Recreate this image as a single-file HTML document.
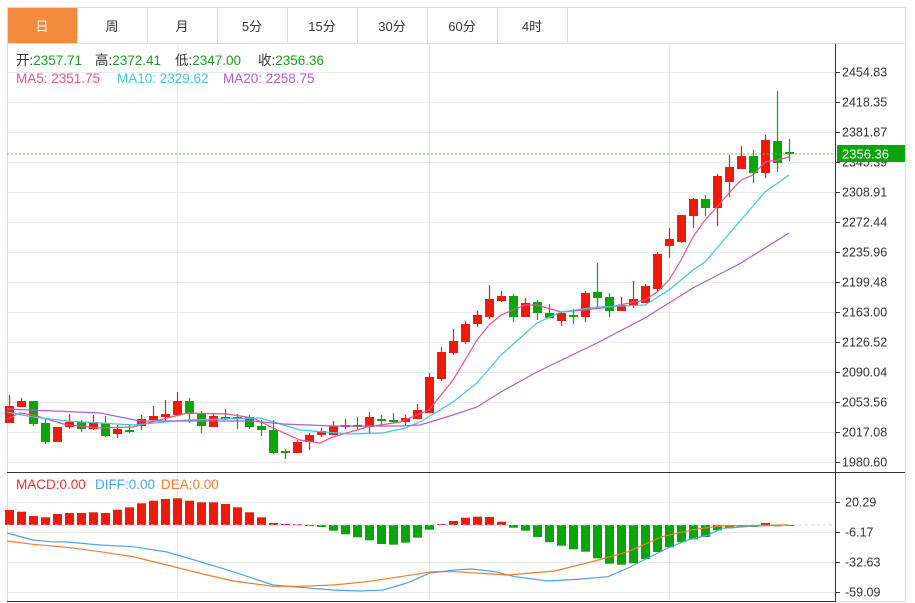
<!DOCTYPE html>
<html><head><meta charset="utf-8">
<style>
body{margin:0;background:#fff;width:915px;height:603px;overflow:hidden;font-family:"Liberation Sans","Noto Sans CJK SC",sans-serif;}
svg{position:absolute;left:0;top:0}
</style></head><body>
<svg id="s" width="915" height="603" xmlns="http://www.w3.org/2000/svg" font-family="Liberation Sans, Noto Sans CJK SC, sans-serif">
<rect x="7.5" y="7.5" width="898" height="594" fill="none" stroke="#dcdcdc"/>
<g stroke="#dcdcdc" fill="none">
<line x1="7" y1="43.5" x2="905" y2="43.5"/>
<line x1="77.5" y1="8" x2="77.5" y2="43"/><line x1="147.5" y1="8" x2="147.5" y2="43"/><line x1="217.5" y1="8" x2="217.5" y2="43"/><line x1="287.5" y1="8" x2="287.5" y2="43"/><line x1="357.5" y1="8" x2="357.5" y2="43"/><line x1="427.5" y1="8" x2="427.5" y2="43"/><line x1="497.5" y1="8" x2="497.5" y2="43"/><line x1="567.5" y1="8" x2="567.5" y2="43"/>
</g>
<rect x="8" y="8" width="69" height="35" fill="#f28b3e"/>
<g font-size="13" text-anchor="middle" fill="#333">
<text x="42" y="31" fill="#fff">日</text><text x="112" y="31">周</text><text x="182" y="31">月</text><text x="252" y="31">5分</text><text x="322" y="31">15分</text><text x="392" y="31">30分</text><text x="462" y="31">60分</text><text x="532" y="31">4时</text>
</g>
<g stroke="#e3eaf0" fill="none" id="grid">
<line x1="177.5" y1="44" x2="177.5" y2="602"/><line x1="429.5" y1="44" x2="429.5" y2="602"/><line x1="669.5" y1="44" x2="669.5" y2="602"/>
</g>
<line x1="835.5" y1="44" x2="835.5" y2="602" stroke="#333"/>
<line x1="7" y1="472.5" x2="905" y2="472.5" stroke="#333"/>
<line x1="7" y1="601.5" x2="835" y2="601.5" stroke="#333"/>
<g font-size="12.5" fill="#333" id="ax"></g>
<g font-size="13.5">
<text x="16" y="65" fill="#333">开:<tspan fill="#1a9e1a">2357.71</tspan></text>
<text x="95" y="65" fill="#333">高:<tspan fill="#1a9e1a">2372.41</tspan></text>
<text x="175" y="65" fill="#333">低:<tspan fill="#1a9e1a">2347.00</tspan></text>
<text x="258" y="65" fill="#333">收:<tspan fill="#1a9e1a">2356.36</tspan></text>
<text x="16" y="83" fill="#f0508a">MA5: 2351.75</text>
<text x="117" y="83" fill="#3fc6e0">MA10: 2329.62</text>
<text x="223" y="83" fill="#b15cd0">MA20: 2258.75</text>
<text x="16" y="489" fill="#f03030">MACD:0.00</text>
<text x="95" y="489" fill="#4aa3f0">DIFF:0.00</text>
<text x="161" y="489" fill="#f57a2a">DEA:0.00</text>
</g>
<g id="c"></g>
<line x1="7" y1="154" x2="835" y2="154" stroke="#5cc45c" stroke-dasharray="2,2"/>
<line x1="7" y1="525" x2="835" y2="525" stroke="#a8d8ee" stroke-dasharray="3,3"/>
<polyline fill="none" stroke="#f0508a" stroke-width="1.2" points="7,419 20,413 33,415 67,425 100,428 133,427 167,418 187,413 227,414 253,418 273,428 300,440 320,443 333,437 367,427 400,422 417,415 429,410 453,380 477,340 489,325 501,315 525,305 537,305 561,312 585,310 609,307 645,300 657,292 669,280 681,260 693,237 705,220 717,207 729,193 741,180 753,175 765,162 777,160 789,157"/>
<polyline fill="none" stroke="#3fc6e0" stroke-width="1.2" points="7,412 33,417 67,421 133,425 187,420 260,418 277,423 300,430 350,434 383,433 405,428 420,422 453,402 477,383 501,355 537,323 561,312 597,307 645,305 669,290 693,270 705,262 717,248 741,220 765,192 789,175"/>
<polyline fill="none" stroke="#b15cd0" stroke-width="1.2" points="7,409 100,413 140,421 187,421 253,421 283,424 333,426 400,426 420,425 453,415 477,407 501,392 537,372 597,343 645,318 693,288 741,263 789,233"/>
<polyline fill="none" stroke="#4aa3f0" stroke-width="1.2" points="7,533 33,540 50,541.7 67,542 100,545 133,546.7 167,552 200,561.7 233,571.7 273,585 300,587.3 333,590 360,591 383,590 407,583 430,573 455,570 472,569 495,571.7 515,576.7 548,581 582,579 608,576.7 628,568 648,558 668,548 688,540 708,535 722,528.3 755,526 788,525"/>
<polyline fill="none" stroke="#f57a2a" stroke-width="1.2" points="7,541 33,544.3 67,547.3 100,551.7 133,556.7 167,565 200,573.3 233,581 273,586.3 300,586.3 333,585 367,581.7 400,576.7 433,571.7 455,571.7 508,575 555,571 595,561 628,551.7 662,536.7 695,529.3 722,526 788,525"/>
<rect x="837" y="145" width="68" height="17" fill="#0aa50a"/>
<text x="842" y="158.5" font-size="13" fill="#fff">2356.36</text>
</svg>
<script>
var NS="http://www.w3.org/2000/svg",g=document.getElementById('c'),gr=document.getElementById('grid'),ax=document.getElementById('ax');
function el(n,a,p){var e=document.createElementNS(NS,n);for(var k in a)e.setAttribute(k,a[k]);(p||g).appendChild(e);return e;}
var lab=["2454.83","2418.35","2381.87","2345.39","2308.91","2272.44","2235.96","2199.48","2163.00","2126.52","2090.04","2053.56","2017.08","1980.60"];
for(var i=0;i<14;i++){var y=72+30*i;el('line',{x1:7,y1:y+.5,x2:835,y2:y+.5},gr);el('line',{x1:836,y1:y+.5,x2:840,y2:y+.5,stroke:'#333'},ax);var t=el('text',{x:842,y:y+4.5},ax);t.textContent=lab[i];}
var ml=["20.29","-6.17","-32.63","-59.09"];
for(i=0;i<4;i++){y=502+30*i;el('line',{x1:7,y1:y+.5,x2:835,y2:y+.5},gr);el('line',{x1:836,y1:y+.5,x2:840,y2:y+.5,stroke:'#333'},ax);t=el('text',{x:845,y:y+4.5},ax);t.textContent=ml[i];}
var C=[[1,406,423,395,423],[1,401,407,398,407],[0,401,424,401,426],[0,423,442,419,444],[1,427,442,427,442],[1,422,427,414,429],[0,422,429,420,432],[1,422,429,415,430],[0,423,436,416,437],[1,429,434,425,438],[0,430,432,424,433],[1,419,426,415,430],[1,416,420,406,421],[1,414,417,400,421],[1,401,415,392,415],[0,401,414,398,423],[0,414,426,411,433],[1,416,427,413,427],[0,417,419,409,420],[0,417,419,414,429],[0,417,427,415,429],[0,426,430,420,436],[0,430,453,420,454],[0,451,453,449,459],[1,442,453,440,453],[1,435,442,433,450],[1,431,435,428,437],[1,426,435,421,435],[1,425,427,419,429],[0,425,427,417,429],[1,417,427,412,433],[0,419,421,415,425],[0,420,422,413,423],[1,418,422,415,425],[1,410,419,404,419],[1,377,413,373,413],[1,352,379,347,381],[1,341,353,329,355],[1,324,342,321,344],[1,315,324,311,327],[1,299,317,285,319],[1,296,301,291,302],[0,296,317,294,322],[1,303,317,298,317],[0,302,313,300,320],[0,313,318,304,318],[1,313,321,312,326],[0,315,317,309,324],[1,293,317,291,322],[0,292,298,263,309],[0,297,311,293,317],[1,305,311,297,311],[1,299,306,281,308],[1,286,303,284,303],[1,254,289,252,291],[1,239,246,228,258],[1,215,242,215,243],[1,199,216,198,228],[0,199,208,195,216],[1,176,208,174,226],[1,167,182,155,197],[1,156,169,146,169],[0,156,173,150,183],[1,140,173,135,178],[0,141,163,91,172],[0,152,154,139,161]];
var M=[510,511.7,516,517.3,514,513,513,512.3,513,509.7,507.3,503.3,500.7,499,498.3,500.7,502.3,502.3,504,507.3,512.3,517.3,523,524,524.3,525.3,527,530.7,534.3,537.3,540.3,544,544.7,542.7,537.7,529.7,524,521,517.7,516.7,517,521.7,527.7,530.7,537,542,545.7,549.3,551.7,558.3,563.7,564.7,563.3,559,552,547.3,542.3,539.3,537,530.3,528.3,527,527,523,526.3,525.5];
for(i=0;i<C.length;i++){var c=C[i],x=9.5+12*i,col=c[0]?'#f01a0a':'#0aa50a';
el('line',{x1:x,y1:c[3],x2:x,y2:c[4],stroke:col,'stroke-width':1.2});
el('rect',{x:x-4.5,y:c[1],width:9,height:Math.max(1.5,c[2]-c[1]),fill:col});
var m=M[i],up=m<525;el('rect',{x:x-4.5,y:Math.min(m,525),width:9,height:Math.max(1,Math.abs(m-525)),fill:up?'#f01a0a':'#0aa50a'});}
</script>
</body></html>
